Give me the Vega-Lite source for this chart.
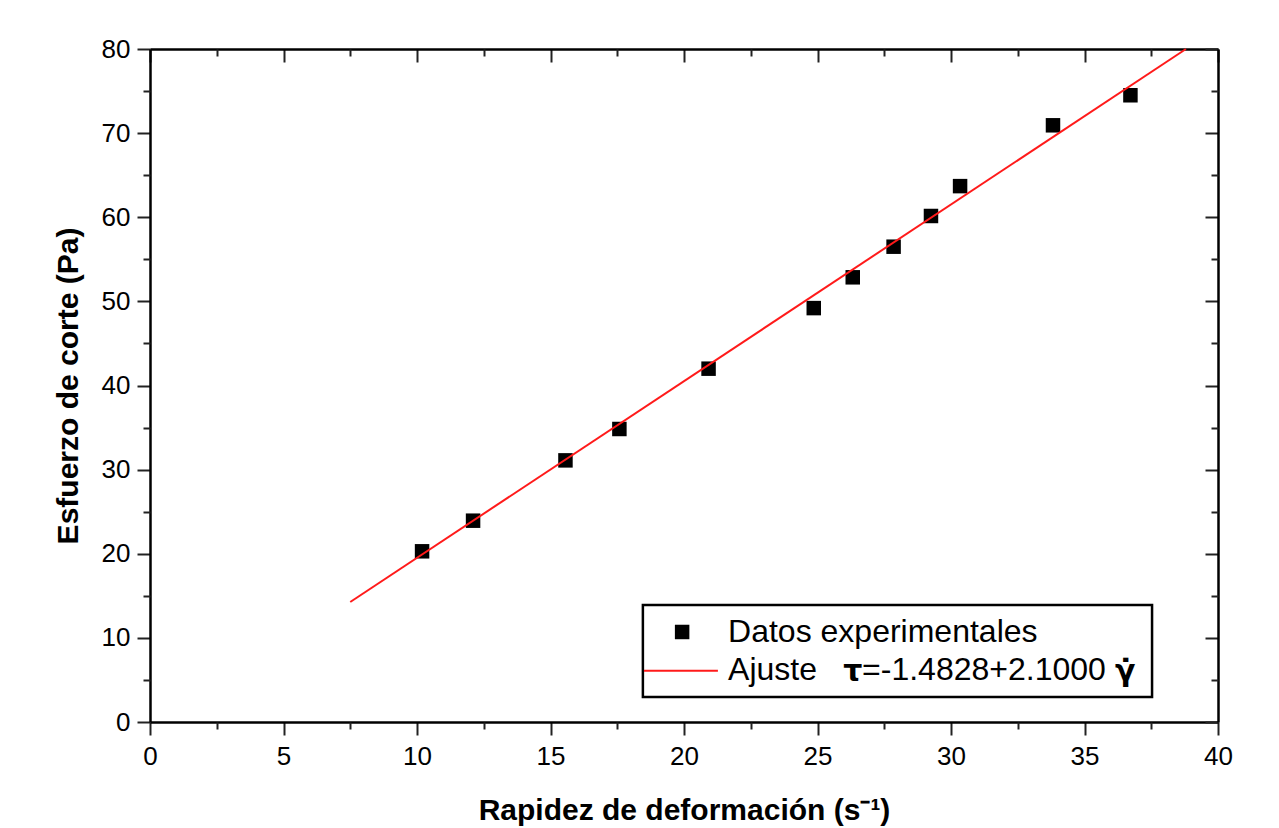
{
  "$schema": "https://vega.github.io/schema/vega-lite/v6.json",
  "width": 1068,
  "height": 673,
  "autosize": {"type": "none"},
  "padding": {"left": 150, "top": 49, "right": 61, "bottom": 106},
  "background": "white",
  "config": {
    "view": {"stroke": null},
    "font": "Liberation Sans",
    "axis": {
      "grid": false,
      "domainColor": "black",
      "domainWidth": 2.5,
      "tickColor": "#222222",
      "tickWidth": 2,
      "labelFont": "Liberation Sans",
      "labelFontSize": 26,
      "labelColor": "black",
      "labelFlush": false,
      "labelOverlap": false,
      "labelBound": false,
      "titleFont": "Liberation Sans",
      "titleFontSize": 30,
      "titleFontWeight": "bold",
      "titleColor": "black"
    }
  },
  "resolve": {"axis": {"x": "independent", "y": "independent"}},
  "layer": [
    {
      "data": {"values": [
        {"rate": 10.19, "stress": 20.29},
        {"rate": 12.10, "stress": 23.93},
        {"rate": 15.56, "stress": 31.1},
        {"rate": 17.58, "stress": 34.83},
        {"rate": 20.92, "stress": 42.0},
        {"rate": 24.86, "stress": 49.2},
        {"rate": 26.32, "stress": 52.86},
        {"rate": 27.85, "stress": 56.5},
        {"rate": 29.25, "stress": 60.15},
        {"rate": 30.34, "stress": 63.7},
        {"rate": 33.82, "stress": 70.93},
        {"rate": 36.72, "stress": 74.5}
      ]},
      "mark": {"type": "point", "shape": "square", "filled": true, "color": "black", "size": 210, "opacity": 1},
      "encoding": {
        "x": {"field": "rate", "type": "quantitative", "scale": {"domain": [0, 40], "nice": false, "zero": true},
          "axis": {"orient": "bottom", "values": [0, 5, 10, 15, 20, 25, 30, 35, 40], "tickSize": 13, "labelPadding": 8, "title": "Rapidez de deformación (s⁻¹)", "titlePadding": 26}},
        "y": {"field": "stress", "type": "quantitative", "scale": {"domain": [0, 80], "nice": false, "zero": true},
          "axis": {"orient": "left", "values": [0, 10, 20, 30, 40, 50, 60, 70, 80], "tickSize": 13, "labelPadding": 7, "title": "Esfuerzo de corte (Pa)", "titlePadding": 18}}
      }
    },
    {
      "data": {"values": [
        {"rate": 7.5, "stress": 14.267},
        {"rate": 38.8, "stress": 79.997}
      ]},
      "mark": {"type": "line", "color": "#ff1a1a", "strokeWidth": 2},
      "encoding": {
        "x": {"field": "rate", "type": "quantitative", "scale": {"domain": [0, 40], "nice": false},
          "axis": {"orient": "bottom", "values": [2.5, 7.5, 12.5, 17.5, 22.5, 27.5, 32.5, 37.5], "tickSize": 7, "labels": false, "domain": false, "title": null}},
        "y": {"field": "stress", "type": "quantitative", "scale": {"domain": [0, 80], "nice": false},
          "axis": {"orient": "left", "values": [5, 15, 25, 35, 45, 55, 65, 75], "tickSize": 7, "labels": false, "domain": false, "title": null}}
      }
    },
    {
      "data": {"values": [{"item": "legend"}]},
      "mark": {"type": "rect", "fill": "white", "stroke": "black", "strokeWidth": 2.5},
      "encoding": {
        "x": {"datum": 18.46, "type": "quantitative", "scale": {"domain": [0, 40], "nice": false},
          "axis": {"orient": "top", "values": [0, 5, 10, 15, 20, 25, 30, 35, 40], "tickSize": -13, "labels": false, "title": null}},
        "x2": {"datum": 37.53},
        "y": {"datum": 2.97, "type": "quantitative", "scale": {"domain": [0, 80], "nice": false},
          "axis": {"orient": "right", "values": [0, 10, 20, 30, 40, 50, 60, 70, 80], "tickSize": -13, "labels": false, "title": null}},
        "y2": {"datum": 13.91}
      }
    },
    {
      "data": {"values": [{"series": "Datos experimentales"}]},
      "mark": {"type": "point", "shape": "square", "filled": true, "color": "black", "size": 210, "opacity": 1},
      "encoding": {
        "x": {"datum": 19.93, "type": "quantitative", "scale": {"domain": [0, 40], "nice": false},
          "axis": {"orient": "top", "values": [2.5, 7.5, 12.5, 17.5, 22.5, 27.5, 32.5, 37.5], "tickSize": -7, "labels": false, "domain": false, "title": null}},
        "y": {"datum": 10.7, "type": "quantitative", "scale": {"domain": [0, 80], "nice": false},
          "axis": {"orient": "right", "values": [5, 15, 25, 35, 45, 55, 65, 75], "tickSize": -7, "labels": false, "domain": false, "title": null}}
      }
    },
    {
      "data": {"values": [{"series": "Ajuste"}]},
      "mark": {"type": "rule", "color": "#ff1a1a", "strokeWidth": 2},
      "encoding": {
        "x": {"datum": 18.5, "type": "quantitative", "scale": {"domain": [0, 40], "nice": false}, "axis": null},
        "x2": {"datum": 21.27},
        "y": {"datum": 6.1, "type": "quantitative", "scale": {"domain": [0, 80], "nice": false}, "axis": null}
      }
    },
    {
      "data": {"values": [{"label": "Datos experimentales"}]},
      "mark": {"type": "text", "align": "left", "baseline": "middle", "fontSize": 32, "font": "Liberation Sans", "color": "black"},
      "encoding": {
        "x": {"datum": 21.65, "type": "quantitative", "scale": {"domain": [0, 40], "nice": false}, "axis": null},
        "y": {"datum": 10.7, "type": "quantitative", "scale": {"domain": [0, 80], "nice": false}, "axis": null},
        "text": {"field": "label"}
      }
    },
    {
      "data": {"values": [{"label": "Ajuste"}]},
      "mark": {"type": "text", "align": "left", "baseline": "middle", "fontSize": 32, "font": "Liberation Sans", "color": "black"},
      "encoding": {
        "x": {"datum": 21.65, "type": "quantitative", "scale": {"domain": [0, 40], "nice": false}, "axis": null},
        "y": {"datum": 6.15, "type": "quantitative", "scale": {"domain": [0, 80], "nice": false}, "axis": null},
        "text": {"field": "label"}
      }
    },
    {
      "data": {"values": [{"label": "τ"}]},
      "mark": {"type": "text", "align": "left", "baseline": "middle", "fontSize": 30, "fontWeight": "bold", "font": "DejaVu Sans", "color": "black"},
      "encoding": {
        "x": {"datum": 25.96, "type": "quantitative", "scale": {"domain": [0, 40], "nice": false}, "axis": null},
        "y": {"datum": 6.0, "type": "quantitative", "scale": {"domain": [0, 80], "nice": false}, "axis": null},
        "text": {"field": "label"}
      }
    },
    {
      "data": {"values": [{"label": "=-1.4828+2.1000"}]},
      "mark": {"type": "text", "align": "left", "baseline": "middle", "fontSize": 32, "font": "Liberation Sans", "color": "black"},
      "encoding": {
        "x": {"datum": 26.67, "type": "quantitative", "scale": {"domain": [0, 40], "nice": false}, "axis": null},
        "y": {"datum": 6.15, "type": "quantitative", "scale": {"domain": [0, 80], "nice": false}, "axis": null},
        "text": {"field": "label"}
      }
    },
    {
      "data": {"values": [{"label": "γ̇"}]},
      "mark": {"type": "text", "align": "left", "baseline": "middle", "fontSize": 30, "fontWeight": "bold", "font": "DejaVu Sans", "color": "black"},
      "encoding": {
        "x": {"datum": 36.14, "type": "quantitative", "scale": {"domain": [0, 40], "nice": false}, "axis": null},
        "y": {"datum": 6.0, "type": "quantitative", "scale": {"domain": [0, 80], "nice": false}, "axis": null},
        "text": {"field": "label"}
      }
    }
  ]
}
